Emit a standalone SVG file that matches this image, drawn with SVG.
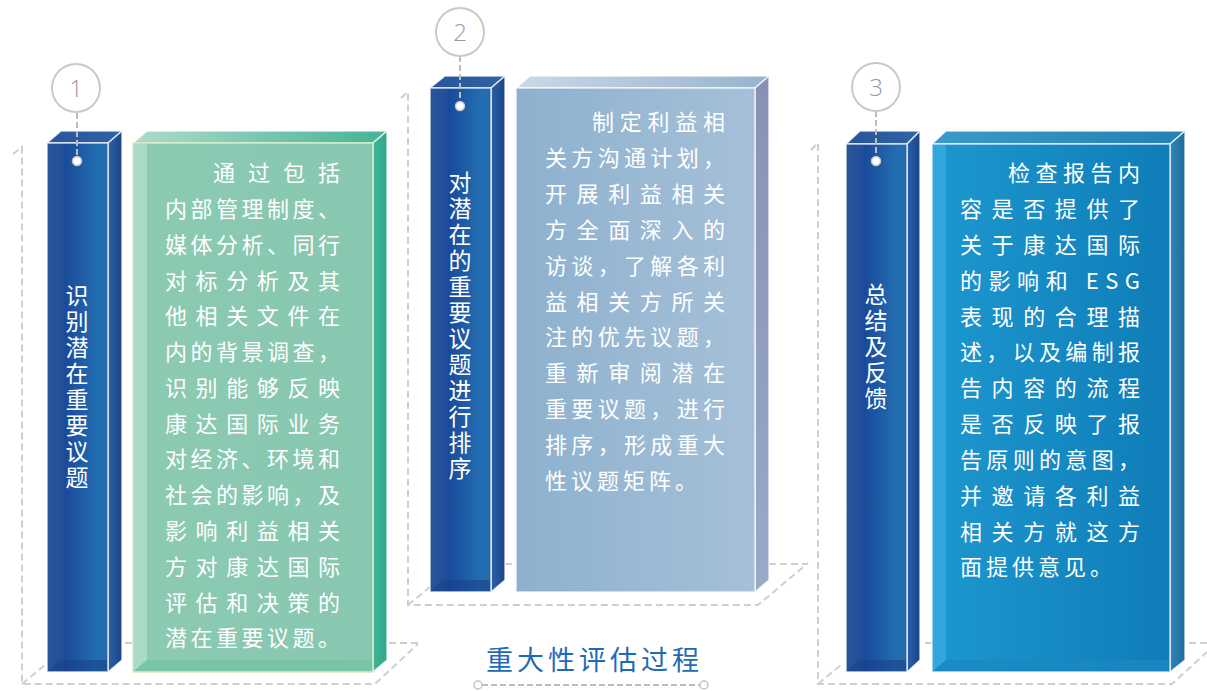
<svg xmlns="http://www.w3.org/2000/svg" width="1207" height="691" viewBox="0 0 1207 691">
  <defs>
    <linearGradient id="pillarFront" x1="0" y1="0" x2="1" y2="0">
      <stop offset="0" stop-color="#2a5498"/>
      <stop offset="0.26" stop-color="#234f9b"/>
      <stop offset="0.3" stop-color="#1a4a9a"/>
      <stop offset="0.85" stop-color="#236fb2"/>
      <stop offset="1" stop-color="#2a66aa"/>
    </linearGradient>
    <linearGradient id="pillarSide" x1="0" y1="0" x2="1" y2="0">
      <stop offset="0" stop-color="#2a62a8"/>
      <stop offset="1" stop-color="#1c4387"/>
    </linearGradient>
    <linearGradient id="pillarTop" x1="0" y1="0" x2="1" y2="0">
      <stop offset="0" stop-color="#28549a"/>
      <stop offset="1" stop-color="#2f64a6"/>
    </linearGradient>
    <linearGradient id="greenFront" x1="0" y1="0" x2="1" y2="0">
      <stop offset="0" stop-color="#8ccab2"/>
      <stop offset="1" stop-color="#88c7b0"/>
    </linearGradient>
    <linearGradient id="greenTop" x1="0" y1="0" x2="1" y2="0">
      <stop offset="0" stop-color="#aedbc9"/>
      <stop offset="1" stop-color="#45b397"/>
    </linearGradient>
    <linearGradient id="greenSide" x1="0" y1="0" x2="1" y2="0">
      <stop offset="0" stop-color="#43b496"/>
      <stop offset="1" stop-color="#2ea88a"/>
    </linearGradient>
    <linearGradient id="greyFront" x1="0" y1="0" x2="1" y2="0">
      <stop offset="0" stop-color="#8db1ce"/>
      <stop offset="1" stop-color="#a6c0d8"/>
    </linearGradient>
    <linearGradient id="greyTop" x1="0" y1="0" x2="1" y2="0">
      <stop offset="0" stop-color="#cbd8e7"/>
      <stop offset="1" stop-color="#97b3cf"/>
    </linearGradient>
    <linearGradient id="greySide" x1="0" y1="0" x2="0" y2="1">
      <stop offset="0" stop-color="#8891b4"/>
      <stop offset="1" stop-color="#99aac8"/>
    </linearGradient>
    <linearGradient id="blueFront" x1="0" y1="0" x2="1" y2="0">
      <stop offset="0" stop-color="#1d97cf"/>
      <stop offset="1" stop-color="#0f7db7"/>
    </linearGradient>
    <linearGradient id="blueTop" x1="0" y1="0" x2="1" y2="0">
      <stop offset="0" stop-color="#3b9acb"/>
      <stop offset="1" stop-color="#2580b4"/>
    </linearGradient>
    <linearGradient id="blueSide" x1="0" y1="0" x2="1" y2="0">
      <stop offset="0" stop-color="#2f86b6"/>
      <stop offset="1" stop-color="#1e6c9e"/>
    </linearGradient>
    <style>
      .frame { fill: none; stroke: #cfcfcf; stroke-width: 2; stroke-dasharray: 7 4; }
      .conn { fill: none; stroke: #bdbdbd; stroke-width: 2; stroke-dasharray: 6 3; }
      .edge { stroke: #ffffff; stroke-opacity: 0.75; stroke-width: 1.5; stroke-linejoin: round; }
      .ring { fill: #ffffff; stroke: #c9c9c9; stroke-width: 2; }
      .num { font-family: "Open Sans", "DejaVu Sans", sans-serif; font-weight: 300; font-size: 24px; fill: #9a9a9a; text-anchor: middle; }
      .dot { fill: #ffffff; stroke: #c4c4c4; stroke-width: 1.5; }
      .vlabel { font-family: "Noto Sans CJK SC", "Noto Sans", sans-serif; font-size: 23px; fill: #ffffff; writing-mode: tb; letter-spacing: 3px; }
      .body { font-family: "Noto Sans CJK SC", "Noto Sans", sans-serif; font-size: 22px; fill: #ffffff; }
      .title { font-family: "Noto Sans CJK SC", "Noto Sans", sans-serif; font-size: 27px; fill: #1f6bb3; letter-spacing: 4px; }
    </style>
  </defs>
  <rect width="1207" height="691" fill="#ffffff"/>

  <!-- dashed wireframes -->
  <g id="frames">
    <path class="frame" d="M13,154 L22,147 V684 H375 L418,644 M22,684 L46,664 M125,643 H418"/>
    <path class="frame" d="M401,98 L408,92 V605 H758 L808,563 M408,605 L430,587 M505,564 H808"/>
    <path class="frame" d="M811,150 L818,143 V684 H1172 L1207,652 M818,684 L842,664 M925,643 H1207"/>
  </g>

  <!-- Step 1 -->
  <g id="step1-pillar">
    <polygon class="edge" fill="url(#pillarTop)" points="47,143 61,131 122,131 108,143"/>
    <polygon class="edge" fill="url(#pillarSide)" points="108,143 122,131 122,660 108,672"/>
    <rect class="edge" x="47" y="143" width="61" height="529" fill="url(#pillarFront)"/>
    <polygon fill="#173f86" opacity="0.55" points="48,671 60,660 107,660 107,671"/>
    <text class="vlabel" x="77" y="284" writing-mode="tb">识别潜在重要议题</text>
  </g>
  <g id="step1-box">
    <polygon class="edge" fill="url(#greenTop)" points="133,143 147,131 387,131 373,143"/>
    <polygon class="edge" fill="url(#greenSide)" points="373,143 387,131 387,660 373,672"/>
    <rect x="133" y="143" width="240" height="529" fill="url(#greenFront)" stroke="#d6ecc4" stroke-width="1.5"/>
    <polygon fill="#a8dbc6" points="134,144 147,144 147,660 134,671"/>
    <polygon fill="#74c3a5" opacity="0.8" points="134,671 147,660 372,660 372,671"/>
    <g class="body">
      <text x="213" y="181" textLength="127" lengthAdjust="spacing">通过包括</text>
      <text x="165" y="217" textLength="175" lengthAdjust="spacing">内部管理制度、</text>
      <text x="165" y="253" textLength="175" lengthAdjust="spacing">媒体分析、同行</text>
      <text x="165" y="289" textLength="175" lengthAdjust="spacing">对标分析及其</text>
      <text x="165" y="324" textLength="175" lengthAdjust="spacing">他相关文件在</text>
      <text x="165" y="360" textLength="175" lengthAdjust="spacing">内的背景调查，</text>
      <text x="165" y="396" textLength="175" lengthAdjust="spacing">识别能够反映</text>
      <text x="165" y="432" textLength="175" lengthAdjust="spacing">康达国际业务</text>
      <text x="165" y="467" textLength="175" lengthAdjust="spacing">对经济、环境和</text>
      <text x="165" y="503" textLength="175" lengthAdjust="spacing">社会的影响，及</text>
      <text x="165" y="539" textLength="175" lengthAdjust="spacing">影响利益相关</text>
      <text x="165" y="575" textLength="175" lengthAdjust="spacing">方对康达国际</text>
      <text x="165" y="611" textLength="175" lengthAdjust="spacing">评估和决策的</text>
      <text x="165" y="646" textLength="175" lengthAdjust="spacing">潜在重要议题。</text>
    </g>
  </g>

  <!-- Step 2 -->
  <g id="step2-pillar">
    <polygon class="edge" fill="url(#pillarTop)" points="430,88 445,76 505,76 491,88"/>
    <polygon class="edge" fill="url(#pillarSide)" points="491,88 505,76 505,580 491,592"/>
    <rect class="edge" x="430" y="88" width="61" height="504" fill="url(#pillarFront)"/>
    <polygon fill="#173f86" opacity="0.55" points="431,591 443,580 490,580 490,591"/>
    <text class="vlabel" x="460" y="171" writing-mode="tb" letter-spacing="3.4">对潜在的重要议题进行排序</text>
  </g>
  <g id="step2-box">
    <polygon class="edge" fill="url(#greyTop)" points="516,88 530,76 769,76 755,88"/>
    <polygon class="edge" fill="url(#greySide)" points="755,88 769,76 769,580 755,592"/>
    <rect class="edge" x="516" y="88" width="239" height="504" fill="url(#greyFront)"/>
    <g class="body">
      <text x="592" y="130" textLength="133" lengthAdjust="spacing">制定利益相</text>
      <text x="545" y="166" textLength="180" lengthAdjust="spacing">关方沟通计划，</text>
      <text x="545" y="202" textLength="180" lengthAdjust="spacing">开展利益相关</text>
      <text x="545" y="238" textLength="180" lengthAdjust="spacing">方全面深入的</text>
      <text x="545" y="274" textLength="180" lengthAdjust="spacing">访谈，了解各利</text>
      <text x="545" y="310" textLength="180" lengthAdjust="spacing">益相关方所关</text>
      <text x="545" y="345" textLength="180" lengthAdjust="spacing">注的优先议题，</text>
      <text x="545" y="381" textLength="180" lengthAdjust="spacing">重新审阅潜在</text>
      <text x="545" y="417" textLength="180" lengthAdjust="spacing">重要议题，进行</text>
      <text x="545" y="453" textLength="180" lengthAdjust="spacing">排序，形成重大</text>
      <text x="545" y="489" letter-spacing="4">性议题矩阵。</text>
    </g>
  </g>

  <!-- Step 3 -->
  <g id="step3-pillar">
    <polygon class="edge" fill="url(#pillarTop)" points="846,144 860,131 920,131 907,144"/>
    <polygon class="edge" fill="url(#pillarSide)" points="907,144 920,131 920,660 907,672"/>
    <rect class="edge" x="846" y="144" width="61" height="528" fill="url(#pillarFront)"/>
    <polygon fill="#173f86" opacity="0.55" points="847,671 859,660 906,660 906,671"/>
    <text class="vlabel" x="876" y="283" writing-mode="tb" letter-spacing="2.8">总结及反馈</text>
  </g>
  <g id="step3-box">
    <polygon class="edge" fill="url(#blueTop)" points="932,144 946,131 1185,131 1170,144"/>
    <polygon class="edge" fill="url(#blueSide)" points="1170,144 1185,131 1185,660 1170,672"/>
    <rect class="edge" x="932" y="144" width="238" height="528" fill="url(#blueFront)"/>
    <polygon fill="#35a9de" opacity="0.9" points="933,145 946,145 946,660 933,671"/>
    <polygon fill="#1a88c2" opacity="0.8" points="933,671 946,660 1169,660 1169,671"/>
    <g class="body">
      <text x="1008" y="181" textLength="132" lengthAdjust="spacing">检查报告内</text>
      <text x="960" y="217" textLength="180" lengthAdjust="spacing">容是否提供了</text>
      <text x="960" y="253" textLength="180" lengthAdjust="spacing">关于康达国际</text>
      <text x="960" y="289" textLength="180" lengthAdjust="spacing">的影响和 ESG</text>
      <text x="960" y="325" textLength="180" lengthAdjust="spacing">表现的合理描</text>
      <text x="960" y="360" textLength="180" lengthAdjust="spacing">述，以及编制报</text>
      <text x="960" y="396" textLength="180" lengthAdjust="spacing">告内容的流程</text>
      <text x="960" y="432" textLength="180" lengthAdjust="spacing">是否反映了报</text>
      <text x="960" y="468" textLength="180" lengthAdjust="spacing">告原则的意图，</text>
      <text x="960" y="504" textLength="180" lengthAdjust="spacing">并邀请各利益</text>
      <text x="960" y="540" textLength="180" lengthAdjust="spacing">相关方就这方</text>
      <text x="960" y="575" letter-spacing="4">面提供意见。</text>
    </g>
  </g>

  <!-- connectors: number circles to pillar dots -->
  <g id="connectors">
    <line class="conn" x1="77" y1="113" x2="77" y2="157"/>
    <line class="conn" x1="460" y1="56" x2="460" y2="102"/>
    <line class="conn" x1="876" y1="111" x2="876" y2="157"/>
    <circle class="dot" cx="77" cy="161" r="4.5"/>
    <circle class="dot" cx="460" cy="106" r="4.5"/>
    <circle class="dot" cx="876" cy="161" r="4.5"/>
  </g>

  <g id="num1">
    <circle class="ring" cx="76" cy="88" r="24"/>
    <text class="num" x="76" y="97">1</text>
  </g>
  <g id="num2">
    <circle class="ring" cx="460" cy="32" r="24"/>
    <text class="num" x="460" y="41">2</text>
  </g>
  <g id="num3">
    <circle class="ring" cx="876" cy="87" r="24"/>
    <text class="num" x="876" y="96">3</text>
  </g>

  <g id="title">
    <text class="title" x="486" y="670">重大性评估过程</text>
    <line class="conn" x1="482" y1="685" x2="700" y2="685"/>
    <circle class="dot" cx="478" cy="685" r="4"/>
    <circle class="dot" cx="704" cy="685" r="4"/>
  </g>
</svg>
